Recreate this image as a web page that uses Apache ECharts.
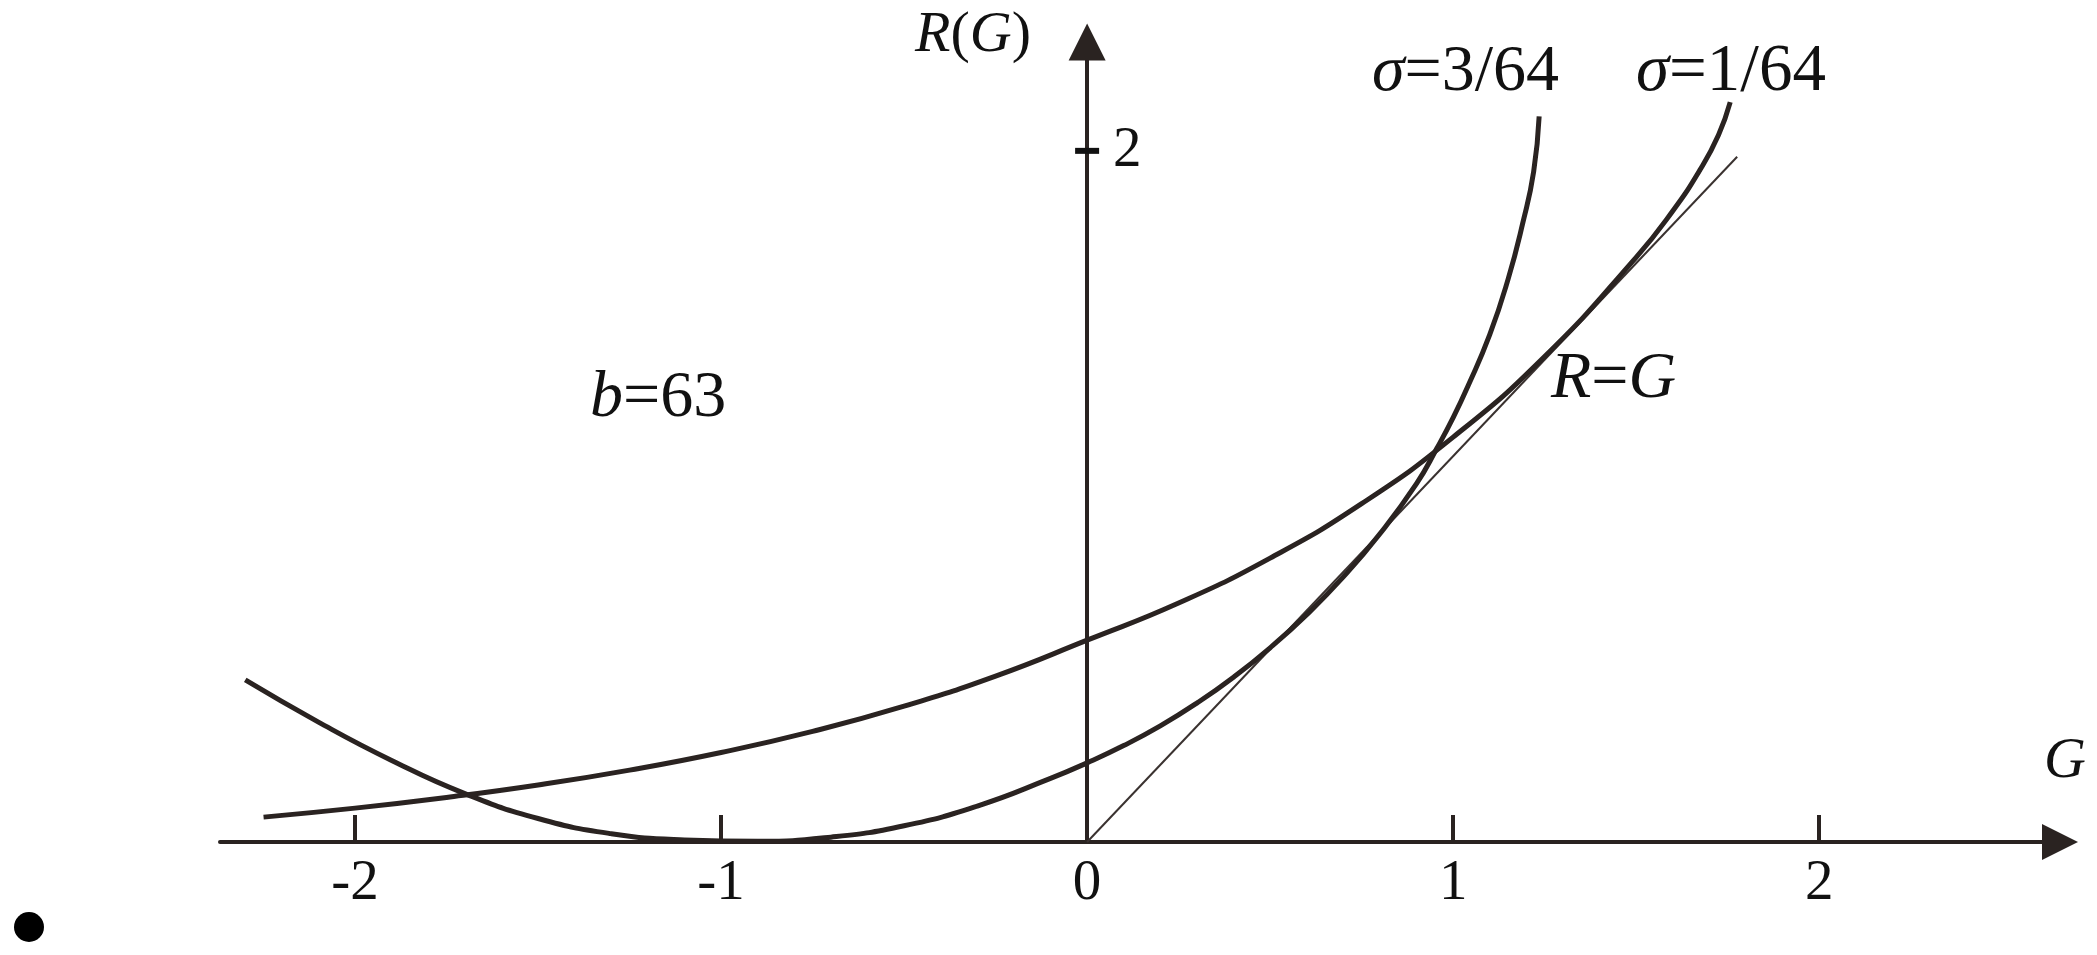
<!DOCTYPE html>
<html>
<head>
<meta charset="utf-8">
<script src="https://cdn.jsdelivr.net/npm/echarts@6/dist/echarts.min.js"></script>
<style>
html,body{margin:0;padding:0;background:#ffffff;}
#chart{width:2097px;height:955px;}
</style>
</head>
<body>
<div id="chart"></div>
<script>
// ---- data ----
const xTickLabels = [-2, -1, 0, 1, 2];
const xTickMarks = [-2, -1, 1, 2];
const yTickLabels = [2];
const yTickAt = [0];

// curve labelled sigma = 3/64 (steeper one)
const sigma3G = [-2.30, -2.10, -1.90, -1.70, -1.50, -1.30, -1.10, -0.90, -0.70, -0.50, -0.30, -0.10, 0.00, 0.10, 0.20, 0.30, 0.40, 0.50, 0.60, 0.70, 0.80, 0.90, 0.956, 1.00, 1.04, 1.10, 1.15, 1.19, 1.22, 1.235];
const sigma3R = [0.469, 0.347, 0.236, 0.140, 0.068, 0.024, 0.006, 0.002, 0.014, 0.047, 0.104, 0.184, 0.229, 0.279, 0.336, 0.402, 0.477, 0.562, 0.658, 0.767, 0.892, 1.037, 1.140, 1.228, 1.318, 1.468, 1.628, 1.790, 1.940, 2.100];

// curve labelled sigma = 1/64
const sigma1G = [-2.25, -2.00, -1.75, -1.50, -1.25, -1.00, -0.75, -0.50, -0.25, 0.00, 0.25, 0.50, 0.75, 1.00, 1.25, 1.50, 1.60, 1.675, 1.725, 1.757];
const sigma1R = [0.072, 0.098, 0.129, 0.165, 0.208, 0.259, 0.320, 0.393, 0.480, 0.584, 0.6915, 0.8215, 0.979, 1.1715, 1.405, 1.692, 1.826, 1.946, 2.046, 2.141];

// straight line labelled R = G
const diagG = [0, 1.776];
const diagR = [0, 1.983];

const zip = (a, b) => a.map((v, i) => [v, b[i]]);

const ink = '#2a2321';
const serif = 'Liberation Serif';

const chart = echarts.init(document.getElementById('chart'), null, {renderer: 'canvas'});

const italic = (size) => ({fontFamily: serif, fontSize: size, fontStyle: 'italic', fill: '#111'});
const upright = (size) => ({fontFamily: serif, fontSize: size, fontStyle: 'normal', fill: '#111'});

function label(x, y, text, size) {
  return {
    type: 'text',
    x: x, y: y,
    style: {
      text: text,
      fontFamily: serif,
      fontSize: size,
      fill: '#111',
      textAlign: 'left',
      textVerticalAlign: 'middle',
      rich: {i: italic(size), n: upright(size)}
    },
    z: 100
  };
}

const option = {
  backgroundColor: '#ffffff',
  animation: false,
  grid: {left: 220, right: 37, top: 42, bottom: 113, containLabel: false},
  xAxis: {
    type: 'value',
    min: -2.369,
    max: 2.658,
    splitLine: {show: false},
    axisLine: {
      show: true,
      onZero: true,
      symbol: ['none', 'triangle'],
      symbolSize: [36, 36],
      lineStyle: {color: ink, width: 4}
    },
    axisTick: {
      show: true,
      inside: true,
      length: 27,
      customValues: xTickMarks,
      lineStyle: {color: ink, width: 4}
    },
    axisLabel: {
      show: true,
      customValues: xTickLabels,
      margin: 14,
      fontFamily: serif,
      fontSize: 57,
      color: '#111',
      formatter: (v) => String(v)
    }
  },
  yAxis: {
    type: 'value',
    min: 0,
    max: 2.315,
    splitLine: {show: false},
    axisLine: {
      show: true,
      onZero: true,
      symbol: ['none', 'triangle'],
      symbolSize: [37, 37],
      lineStyle: {color: ink, width: 4}
    },
    axisTick: {show: false},
    axisLabel: {show: false}
  },
  series: [
    {
      name: 'σ=3/64',
      type: 'line',
      data: zip(sigma3G, sigma3R),
      smooth: 0.5,
      showSymbol: false,
      lineStyle: {color: ink, width: 5},
      z: 5
    },
    {
      name: 'σ=1/64',
      type: 'line',
      data: zip(sigma1G, sigma1R),
      smooth: 0.5,
      showSymbol: false,
      lineStyle: {color: ink, width: 5},
      z: 5
    },
    {
      name: 'R=G',
      type: 'line',
      data: zip(diagG, diagR),
      showSymbol: false,
      lineStyle: {color: '#3a3230', width: 2},
      z: 4
    },
    {
      name: 'y tick',
      type: 'scatter',
      data: zip(yTickAt, yTickLabels),
      symbol: 'rect',
      symbolSize: [24, 6],
      itemStyle: {color: '#111', opacity: 1},
      label: {
        show: true,
        position: 'right',
        distance: 14,
        formatter: (p) => String(p.value[1]),
        fontFamily: serif,
        fontSize: 57,
        color: '#111',
        opacity: 1,
        textBorderWidth: 0
      },
      z: 6
    }
  ],
  graphic: [
    label(915, 36, '{i|R}{n|(}{i|G}{n|)}', 58),
    label(1372, 73, '{i|σ}{n|=3/64}', 66),
    label(1636, 72, '{i|σ}{n|=1/64}', 67),
    label(590, 399, '{i|b}{n|=63}', 66),
    label(1551, 380, '{i|R}{n|=}{i|G}', 66),
    label(2044, 762, '{i|G}', 58),
    {type: 'circle', shape: {cx: 29, cy: 927, r: 15}, style: {fill: '#000'}}
  ]
};

chart.setOption(option);
</script>
</body>
</html>
